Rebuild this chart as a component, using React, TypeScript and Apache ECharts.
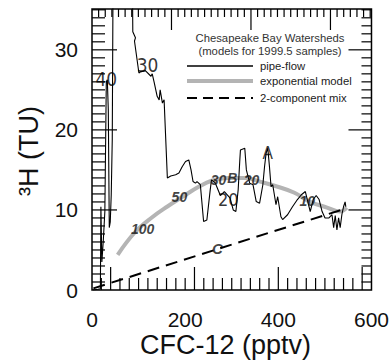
import React, { useEffect, useRef } from 'react';
import * as echarts from 'echarts';

// ---- data ----
const xTickValues = [0, 200, 400, 600];
const yTickValues = [0, 10, 20, 30];

// pipe-flow model curve: [CFC-12 (pptv), 3H (TU)]
const pipeFlow: [number, number][] = [
  [2, 0.0], [12.7, 0.1], [18.0, 0.16], [19.1, 10.4], [21.2, 3.5], [24.4, 6.3], [27.6, 9.8],
  [30.7, 26.0], [32.9, 26.25], [35.0, 22.5], [37.1, 7.8], [39.2, 8.5], [41.3, 11.9], [43.5, 18.8],
  [47, 60], [84, 60],
  [87.6, 32.25], [93.3, 31.5], [91.2, 31.1], [100.7, 27.1], [103.9, 27.25], [114.5, 27.4],
  [126.6, 26.7], [129.3, 27.0], [133.6, 25.9], [139.9, 24.2], [144.2, 23.75], [146.3, 25.0],
  [151.2, 23.35], [154.8, 23.75], [161.8, 14.0], [169.0, 14.25], [179.6, 14.4], [186.6, 14.6],
  [193.6, 15.4], [200.8, 16.05], [207.8, 16.25], [212.6, 15.0], [216.9, 13.55], [222.0, 13.35],
  [225.4, 13.55], [232.6, 13.15], [239.6, 8.55], [246.6, 8.75], [253.8, 12.5], [256.5, 13.75],
  [264.4, 13.4], [275.6, 11.8], [284.1, 12.3], [296.2, 11.5], [303.2, 10.0], [308.9, 9.8],
  [313.8, 12.5], [317.4, 16.3], [318.7, 17.5], [328.0, 17.7], [331.4, 15.0], [338.6, 13.35],
  [345.6, 13.15], [352.6, 11.05], [359.8, 10.85], [366.8, 13.15], [370.4, 15.4], [373.8, 17.1],
  [377.4, 17.7], [381.0, 15.4], [384.4, 12.9], [388.0, 13.15], [395.0, 10.65], [398.6, 11.65],
  [405.6, 9.15], [409.2, 8.8], [419.8, 9.4], [430.4, 10.4], [441.0, 11.3], [449.5, 11.9],
  [458.0, 12.3], [462.2, 11.3], [468.5, 9.8], [474.9, 11.3], [481.3, 11.8], [487.6, 11.3],
  [494.0, 9.8], [500.3, 9.0], [508.8, 9.0], [515.2, 9.4], [518.8, 7.8], [522.2, 9.3],
  [525.8, 7.5], [529.4, 9.0], [532.8, 7.8], [536.4, 9.4], [540.0, 10.4], [543.4, 11.0], [544.9, 10.4],
];

// exponential model curve
const exponentialModel: [number, number][] = [
  [55.1, 4.4], [91.2, 7.15], [127.2, 9.0], [161.1, 10.4], [201.4, 11.9], [229, 12.9],
  [256.6, 13.65], [292.6, 14.0], [328.6, 14.0], [362.5, 13.5], [398.6, 12.9], [434.6, 12.15],
  [468.5, 11.0], [504.6, 10.3], [532.1, 9.8], [547, 10.3],
];

// 2-component mixing line
const mixingLine: [number, number][] = [[3, 0.2], [535, 10.0]];

// age / sample annotations: [text, CFC, 3H, kind]
const annotations: [string, number, number, string][] = [
  ['40', 30.7, 26.3, 'pipe'],
  ['30', 119.4, 28.05, 'pipe'],
  ['20', 292.6, 11.25, 'pipe'],
  ['A', 377.4, 17.1, 'pipe'],
  ['100', 108.8, 7.65, 'exp'],
  ['50', 187.6, 11.65, 'exp'],
  ['30', 271.4, 13.7, 'exp'],
  ['B', 301.1, 14.0, 'exp'],
  ['20', 342.4, 13.7, 'exp'],
  ['10', 462.2, 11.15, 'exp'],
  ['C', 269.3, 5.15, 'mix'],
];

// frame tick marks (inside ticks on all four sides)
const sideTickStep = 1;           // 3H units, left & right
const sideTickMajors = [10, 20, 30];
const bottomTickStep = 20;        // CFC units
const bottomTickMajors = [40, 220, 400, 580];
const topTickStep = 14.22;        // CFC units
const topTickMajorEvery = 12;

const legendTitle = ['Chesapeake Bay Watersheds', '(models for 1999.5 samples)'];
const legendNames = ['pipe-flow', 'exponential model', '2-component mix'];

const SANS = '"Liberation Sans", Arial, Helvetica, sans-serif';
const NARROW = '"Liberation Sans Narrow", "Arial Narrow", "DejaVu Sans Condensed", sans-serif';

const X_MAX = 600;
const Y_MAX = 35.1;

export default function App() {
  const ref = useRef<HTMLDivElement>(null);
  useEffect(() => {
    if (!ref.current) return;
    const chart = echarts.init(ref.current, undefined, { renderer: 'svg' });

    const annoData = annotations.map(([t, x, y, kind]) => {
      let label: any;
      if (kind === 'pipe') {
        label = { formatter: t, fontFamily: NARROW, fontSize: t === 'A' ? 17 : 19, color: '#000' };
        if (t === '20') label.fontSize = 18;
      } else {
        label = { formatter: t, fontFamily: SANS, fontSize: kind === 'mix' ? 15 : 14, fontStyle: 'italic', fontWeight: 'bold', color: '#111' };
      }
      return { value: [x, y], label };
    });

    chart.setOption({
      animation: false,
      backgroundColor: '#fff',
      grid: { left: 92, right: 17, top: 9, bottom: 74, show: true, borderColor: '#000', borderWidth: 1.5 },
      xAxis: {
        type: 'value', min: 0, max: X_MAX, interval: 200,
        axisLine: { show: false }, axisTick: { show: false }, splitLine: { show: false },
        axisLabel: {
          fontSize: 21, fontFamily: SANS, color: '#111', margin: 19,
          formatter: (v: number) => (xTickValues.includes(v) ? String(v) : ''),
        },
      },
      yAxis: {
        type: 'value', min: 0, max: Y_MAX, interval: 10,
        axisLine: { show: false }, axisTick: { show: false }, splitLine: { show: false },
        axisLabel: {
          fontSize: 21, fontFamily: SANS, color: '#111', margin: 14,
          formatter: (v: number) => (yTickValues.includes(v) ? String(v) : ''),
        },
      },
      series: [
        {
          name: 'exponential model', type: 'line', data: exponentialModel, smooth: 0.4,
          symbol: 'none', lineStyle: { color: '#b4b4b4', width: 4 }, z: 2,
        },
        {
          name: '2-component mix', type: 'line', data: mixingLine,
          symbol: 'none', lineStyle: { color: '#000', width: 2, type: [12, 7] }, z: 3,
        },
        {
          name: 'pipe-flow', type: 'line', data: pipeFlow, clip: true,
          symbol: 'none', lineStyle: { color: '#000', width: 1.1 }, z: 4,
        },
        {
          name: 'labels', type: 'scatter', data: annoData, symbolSize: 1,
          itemStyle: { color: 'rgba(0,0,0,0)' },
          label: { show: true, position: 'inside' }, z: 5,
        },
      ],
    });

    // ---- frame ticks, positioned through the chart's own scales ----
    const pts: number[][] = [];
    const tick = (x: number, y: number, dx: number, dy: number) => {
      const p = chart.convertToPixel({ gridIndex: 0 }, [x, y]) as number[];
      pts.push([p[0], p[1], p[0] + dx, p[1] + dy]);
    };
    for (let v = sideTickStep; v < Y_MAX; v += sideTickStep) {
      const major = sideTickMajors.includes(v);
      tick(0, v, major ? 25 : 13, 0);
      tick(X_MAX, v, major ? -23 : -10, 0);
    }
    for (let v = bottomTickStep; v < X_MAX; v += bottomTickStep) {
      tick(v, 0, 0, bottomTickMajors.includes(v) ? -23 : -12);
    }
    for (let i = 1; i * topTickStep < X_MAX - 2; i++) {
      tick(i * topTickStep, Y_MAX, 0, i % topTickMajorEvery === 0 ? 21 : 8);
    }
    const ticks = pts.map((s) => ({
      type: 'line',
      shape: { x1: s[0], y1: s[1], x2: s[2], y2: s[3] },
      style: { stroke: '#000', lineWidth: 1.2 },
    }));

    const txt = (text: string, x: number, y: number, font: string, fill: string, align: string, extra: any = {}) => ({
      type: 'text', x, y, ...extra,
      style: { text, font, fill, textAlign: align, textVerticalAlign: 'middle' },
    });

    chart.setOption({
      graphic: [
        ...ticks,
        txt(legendTitle[0], 270, 38, `11.3px ${SANS}`, '#333', 'center'),
        txt(legendTitle[1], 270, 51, `11.3px ${SANS}`, '#333', 'center'),
        { type: 'line', shape: { x1: 187, y1: 66, x2: 253, y2: 66 }, style: { stroke: '#000', lineWidth: 1.5 } },
        { type: 'line', shape: { x1: 187, y1: 81, x2: 253, y2: 81 }, style: { stroke: '#b4b4b4', lineWidth: 4 } },
        { type: 'line', shape: { x1: 187, y1: 98, x2: 253, y2: 98 }, style: { stroke: '#000', lineWidth: 2, lineDash: [10, 6] } },
        txt(legendNames[0], 260, 66, `11.3px ${SANS}`, '#222', 'left'),
        txt(legendNames[1], 260, 81, `11.3px ${SANS}`, '#222', 'left'),
        txt(legendNames[2], 260, 98, `11.3px ${SANS}`, '#222', 'left'),
        txt('CFC-12 (pptv)', 225.5, 345, `27px ${SANS}`, '#111', 'center'),
        txt('\u00B3H (TU)', 29, 151, `27px ${SANS}`, '#111', 'center', { rotation: Math.PI / 2 }),
      ],
    });
    return () => chart.dispose();
  }, []);
  return <div ref={ref} style={{ position: 'absolute', left: 0, top: 0, width: 392, height: 364 }} />;
}
